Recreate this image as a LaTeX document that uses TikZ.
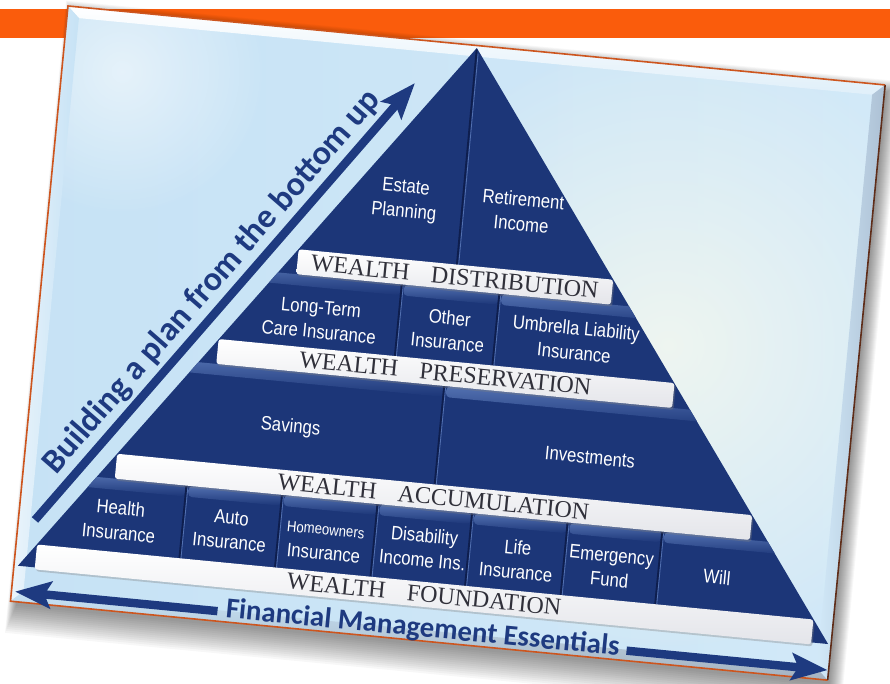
\documentclass[tikz,border=0pt]{standalone}
\usepackage{fontspec}
\setmainfont{Liberation Serif}
\newfontfamily\cellfont[FakeStretch=0.86]{Liberation Sans}
\newfontfamily\calfont{Carlito}
\usetikzlibrary{arrows.meta,fadings,shadows}

\definecolor{navy}{RGB}{28,54,120}
\definecolor{navyhi}{RGB}{82,112,176}
\definecolor{navydk}{RGB}{14,30,78}
\definecolor{bandorange}{RGB}{250,92,12}
\definecolor{panelL}{RGB}{198,226,245}
\definecolor{panelR}{RGB}{210,233,248}
\definecolor{glowc}{RGB}{242,247,240}
\definecolor{rimorange}{RGB}{205,85,30}
\definecolor{rimdark}{RGB}{95,45,25}
\definecolor{bandtextc}{RGB}{48,48,58}
\definecolor{arrowblue}{RGB}{30,58,128}

\tikzfading[name=softglow, inner color=transparent!10, outer color=transparent!100]

\tikzset{
  celltext/.style={text=white, font=\cellfont\fontsize{14.6}{18.5}\selectfont, align=center, inner sep=0pt},
  bandtext/.style={text=bandtextc, font=\fontsize{18}{19}\selectfont, inner sep=0pt,
     top color=white, bottom color={rgb,255:red,228;green,229;blue,234}, rounded corners=2pt,
     minimum height=18.75pt, drop shadow={shadow xshift=1pt, shadow yshift=-1.5pt, opacity=0.35}},
  bigarrow/.style={draw=arrowblue, line width=6.3pt, -{Stealth[length=27pt,width=20pt,inset=5pt]}},
  bigtext/.style={text=arrowblue, font=\calfont\bfseries, inner sep=0pt},
  cellstrip/.style={top color=navyhi, bottom color=navy, rounded corners=3pt},
  divdark/.style={draw=navydk, line width=1.4pt},
  divlight/.style={draw=navyhi, line width=0.6pt},
}

\begin{document}
\begin{tikzpicture}[x=0.75pt,y=-0.75pt]
\useasboundingbox (0,0) rectangle (890,684);
\fill[white] (0,0) rectangle (890,684);
\fill[bandorange] (0,9) rectangle (890,38);

\begin{scope}[shift={(68,6)}, rotate=-5.52, transform shape]
  % soft drop shadow of the card
  \foreach \k in {1,...,15}
    \fill[black,opacity=0.03] ({\k*0.6-3},{\k*0.9-6}) rectangle ({838-\k},{632-\k*2});
  % card
  \shade[left color=panelL, right color=panelR] (0,0) rectangle (821,598);
  \begin{scope}
    \clip (0,0) rectangle (821,598);
    \fill[glowc, path fading=softglow] (630,280) circle (300);
    \fill[white, opacity=0.6, path fading=softglow] (60,60) circle (140);
  \end{scope}
  % bevels
  \shade[top color=white, bottom color=panelL!55!white] (0,0)--(821,0)--(809,11)--(12,11)--cycle;
  \shade[left color=white!65!panelL, right color=panelL] (0,0)--(12,11)--(12,587)--(0,598)--cycle;
  \shade[left color=panelR, right color={rgb,255:red,172;green,192;blue,212}] (821,0)--(821,598)--(809,587)--(809,11)--cycle;
  \shade[top color=panelL, bottom color={rgb,255:red,165;green,178;blue,192}] (0,598)--(12,587)--(809,587)--(821,598)--cycle;
  \draw[rimorange, line width=1.2pt] (821,0)--(0,0)--(0,598)--(821,598);
  \draw[rimdark, line width=1.2pt] (821,0)--(821,598);

  % pyramid
  \coordinate (apex) at (411,2.5);
  \coordinate (pbl) at (4,562);
  \coordinate (pbr) at (818,562);
  \fill[navy] (apex)--(pbr)--(pbl)--cycle;
  \begin{scope}
    \clip (apex)--(pbr)--(pbl)--cycle;
    % layer 2 cells
    \shade[cellstrip] (150,245) rectangle (358.5,256);
    \shade[cellstrip] (361.5,245) rectangle (456.5,256);
    \shade[cellstrip] (459.5,245) rectangle (700,256);
    % layer 3 cells
    \shade[cellstrip] (100,342) rectangle (410.5,353);
    \shade[cellstrip] (413.5,342) rectangle (760,353);
    % layer 4 cells
    \shade[cellstrip] (40,466) rectangle (163.5,477);
    \shade[cellstrip] (166.5,466) rectangle (259.5,477);
    \shade[cellstrip] (262.5,466) rectangle (355.5,477);
    \shade[cellstrip] (358.5,466) rectangle (450.5,477);
    \shade[cellstrip] (453.5,466) rectangle (546.5,477);
    \shade[cellstrip] (549.5,466) rectangle (641.5,477);
    \shade[cellstrip] (644.5,466) rectangle (790,477);
  \end{scope}
  % dividers
  \draw[divdark] (411,4)--(412,220);
  \draw[divlight] (412.8,8)--(413.8,220);
  \foreach \d in {360,458} {\draw[divdark] (\d-1,245)--(\d-1,317); \draw[divlight] (\d+0.6,247)--(\d+0.6,317);}
  \draw[divdark] (411,342)--(411,441); \draw[divlight] (412.6,344)--(412.6,441);
  \foreach \d in {165,261,357,452,548,643} {\draw[divdark] (\d-1,466)--(\d-1,539); \draw[divlight] (\d+0.6,468)--(\d+0.6,539);}

  % white bands
  \node[bandtext, minimum width=237pt] (bdist) at (411,232.5) {WEALTH\hspace{0.9em}DISTRIBUTION};
  \node[bandtext, minimum width=343.5pt] (bpres) at (411,329.5) {WEALTH\hspace{0.9em}PRESERVATION};
  \node[bandtext, minimum width=478.5pt] (baccu) at (411,453.5) {WEALTH\hspace{0.9em}ACCUMULATION};
  \node[bandtext, minimum width=585pt] (bfound) at (411,551.5) {WEALTH\hspace{0.9em}FOUNDATION};

  % cell labels
  \node[celltext] (estate) at (354,161) {Estate\\Planning};
  \node[celltext] (retire) at (472,161) {Retirement\\Income};
  \node[celltext] (ltc) at (281,288) {Long-Term\\Care Insurance};
  \node[celltext] (other) at (410,286) {Other\\Insurance};
  \node[celltext] (umb) at (537,284) {Umbrella Liability\\Insurance};
  \node[celltext] (sav) at (262,398) {Savings};
  \node[celltext] (inv) at (563,399) {Investments};
  \node[celltext] (health) at (101,507) {Health\\Insurance};
  \node[celltext] (auto) at (212,506) {Auto\\Insurance};
  \node[celltext] (home) at (307,509) {{\fontsize{11.5}{18.5}\selectfont Homeowners}\\Insurance};
  \node[celltext] (dis) at (406,505) {Disability\\Income Ins.};
  \node[celltext] (life) at (500,508) {Life\\Insurance};
  \node[celltext] (emer) at (594,507) {Emergency\\Fund};
  \node[celltext] (will) at (701,506) {Will};

  % diagonal arrow and text
  \coordinate (upTail) at (16.6,514.8);
  \coordinate (upTip) at (352.8,43.3);
  \draw[bigarrow] (upTail) -- (upTip);
  \node[bigtext, font=\calfont\bfseries\fontsize{25.5}{28}\selectfont, rotate=54.5] (build) at (170,261) {Building a plan from the bottom up};

  % bottom double arrow
  \node[bigtext, font=\calfont\bfseries\fontsize{21.6}{24}\selectfont] (fme) at (413,586) {Financial Management Essentials};
  \coordinate (lTail) at (207,588);
  \coordinate (lTip) at (3.6,588);
  \coordinate (rTail) at (618,588);
  \coordinate (rTip) at (820,588);
  \draw[bigarrow] (lTail) -- (lTip);
  \draw[bigarrow] (rTail) -- (rTip);
\end{scope}
\end{tikzpicture}
\end{document}
